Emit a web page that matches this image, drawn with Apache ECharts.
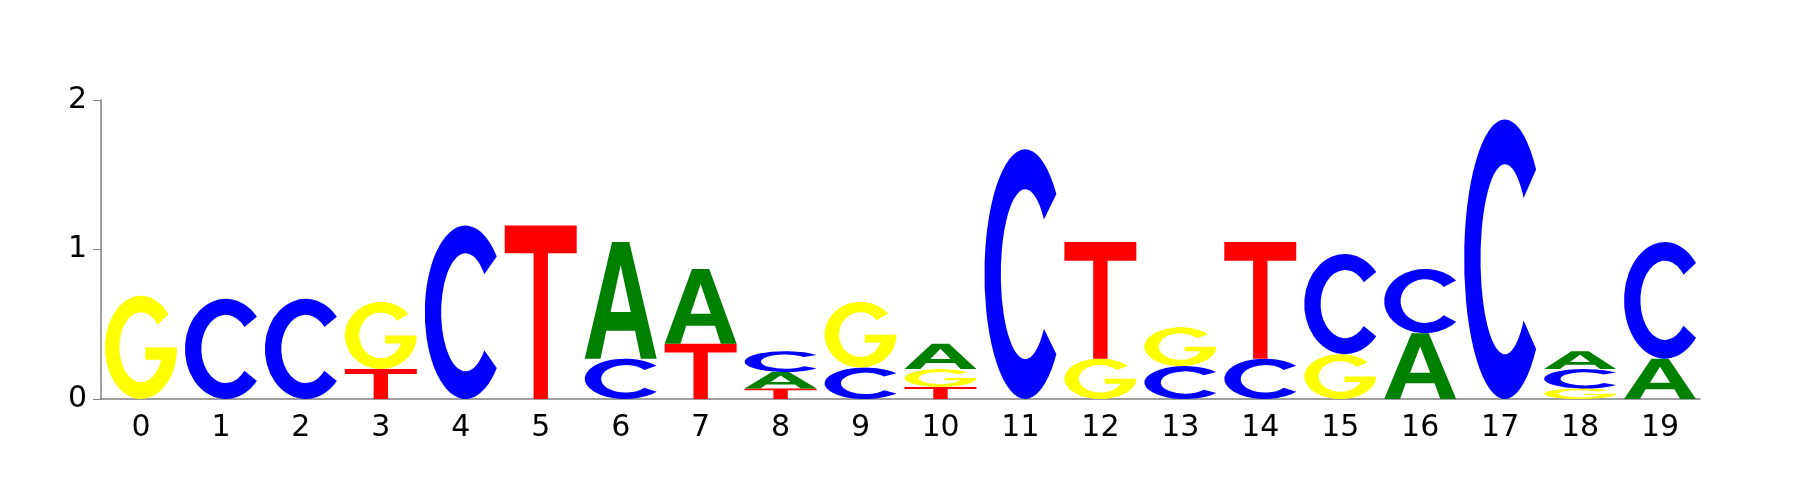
<!DOCTYPE html>
<html><head><meta charset="utf-8">
<script src="https://cdn.jsdelivr.net/npm/echarts@6/dist/echarts.min.js"></script>
<style>html,body{margin:0;background:#fff}#c{width:1800px;height:500px}</style>
</head><body><div id="c"></div>
<script>
var positions = ['0','1','2','3','4','5','6','7','8','9','10','11','12','13','14','15','16','17','18','19'];
// letters bottom-to-top, heights in bits
var stacks = [
  [['G',0.69]],
  [['C',0.67]],
  [['C',0.67]],
  [['T',0.2],['G',0.45]],
  [['C',1.16]],
  [['T',1.16]],
  [['C',0.27],['A',0.78]],
  [['T',0.37],['A',0.5]],
  [['T',0.07],['A',0.11],['C',0.14]],
  [['C',0.21],['G',0.44]],
  [['T',0.08],['G',0.12],['A',0.17]],
  [['C',1.67]],
  [['G',0.27],['T',0.78]],
  [['C',0.22],['G',0.26]],
  [['C',0.27],['T',0.78]],
  [['G',0.3],['C',0.67]],
  [['A',0.44],['C',0.43]],
  [['C',1.87]],
  [['G',0.07],['C',0.13],['A',0.12]],
  [['A',0.27],['C',0.78]]
];
var colors = {A:'#008000', C:'#0000ff', G:'#ffff00', T:'#ff0000'};
var paths = {
  T:'M0,0 H100 V16 H60 V100 H40 V16 H0 Z',
  A:'M0,100 L38,0 H62 L100,100 H78 L70,76 H30 L22,100 Z M36,60 H64 L50,20 Z',
  C:'M88.3,17.9 A50,50 0 1 0 88.3,82.1 L73,71.9 A30,34 0 1 1 73,28.1 Z',
  G:'M88.3,17.9 A50,50 0 1 0 100,50 H56 V62 H78 A30,34 0 1 1 73,28.1 Z'
};
var data = [];
stacks.forEach(function(st, i){
  var base = 0;
  st.forEach(function(e){ data.push([i, base, base+e[1], e[0]]); base += e[1]; });
});
var chart = echarts.init(document.getElementById('c'));
chart.setOption({
  animation:false,
  grid:{left:101,right:100,top:100,bottom:101},
  xAxis:{type:'category',data:positions,axisTick:{show:false},
    axisLine:{lineStyle:{color:'#808080',width:1.5}},
    axisLabel:{color:'#000',fontSize:30,margin:14,fontFamily:'DejaVu Sans'}},
  yAxis:{type:'value',min:0,max:2,interval:1,splitLine:{show:false},
    axisLine:{show:true,lineStyle:{color:'#808080',width:1.5}},
    axisTick:{show:true,length:8,lineStyle:{color:'#808080'}},
    axisLabel:{color:'#000',fontSize:30,margin:14,fontFamily:'DejaVu Sans'}},
  series:[{type:'custom',data:data,clip:false,
    renderItem:function(params, api){
      var x = api.value(0), lo = api.value(1), hi = api.value(2);
      var L = data[params.dataIndex][3];
      var p0 = api.coord([x, lo]), p1 = api.coord([x, hi]);
      var w = api.size([1,0])[0]*0.9;
      return {type:'path',shape:{pathData:paths[L],layout:'cover',x:p0[0]-w/2,y:p1[1],width:w,height:p0[1]-p1[1]},
        style:{fill:colors[L]}};
    }}]
});
</script></body></html>
